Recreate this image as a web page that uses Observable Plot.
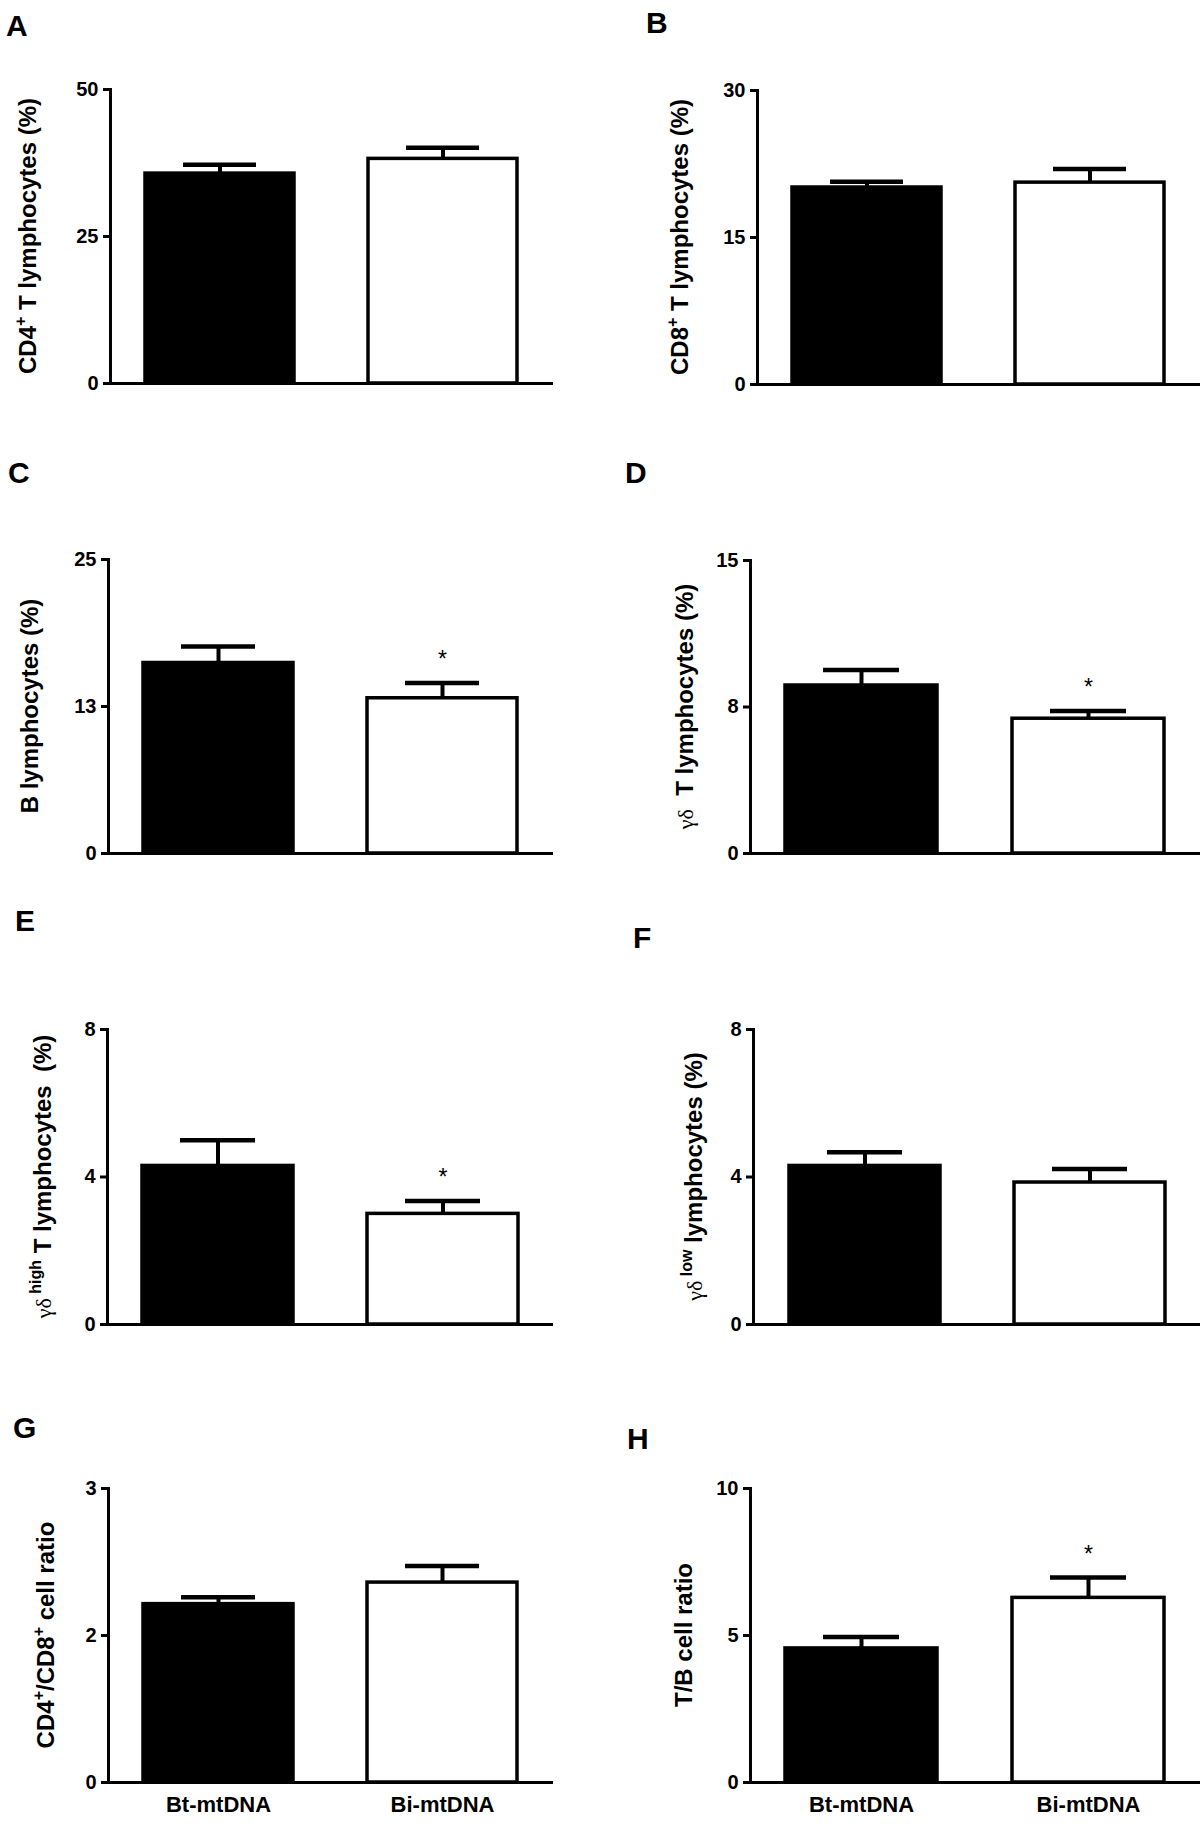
<!DOCTYPE html>
<html><head><meta charset="utf-8">
<script src="https://cdn.jsdelivr.net/npm/d3@7"></script>
<script src="https://cdn.jsdelivr.net/npm/@observablehq/plot@0.6"></script>
<style>
body{margin:0;background:#fff;}
#fig{position:relative;width:1200px;height:1827px;background:#fff;overflow:hidden;}
.panel{position:absolute;}
</style></head><body><div id="fig"></div>
<script>
// ---- data ----
const groups = ["Bt-mtDNA", "Bi-mtDNA"];
const panelIds = ["A", "B", "C", "D", "E", "F", "G", "H"];

const meanA = [35.7, 38.2], semA = [1.5, 1.9];
const meanB = [20.1, 20.6], semB = [0.6, 1.4];
const meanC = [16.2, 13.2], semC = [1.4, 1.3];
const meanD = [8.6, 6.9],  semD = [0.8, 0.4];
const meanE = [4.3, 3.0],  semE = [0.7, 0.35];
const meanF = [4.3, 3.85], semF = [0.37, 0.37];
const meanG = [1.82, 2.04], semG = [0.07, 0.17];
const meanH = [4.56, 6.28], semH = [0.39, 0.69];

const significant = {A:[false,false], B:[false,false], C:[false,true], D:[false,true],
                     E:[false,true], F:[false,false], G:[false,false], H:[false,true]};

const yMaxes = [50, 30, 25, 15, 8, 8, 3, 10];
const ticksA = [0, 25, 50],  tickLabelsA = ["0", "25", "50"];
const ticksB = [0, 15, 30],  tickLabelsB = ["0", "15", "30"];
const ticksC = [0, 12.5, 25], tickLabelsC = ["0", "13", "25"];
const ticksD = [0, 7.5, 15], tickLabelsD = ["0", "8", "15"];
const ticksE = [0, 4, 8],    tickLabelsE = ["0", "4", "8"];
const ticksF = [0, 4, 8],    tickLabelsF = ["0", "4", "8"];
const ticksG = [0, 1.5, 3],  tickLabelsG = ["0", "2", "3"];
const ticksH = [0, 5, 10],   tickLabelsH = ["0", "5", "10"];

// y-axis titles as segments: [text, kind]
const yTitles = {
  A: [["CD4","n"],["+","sup"],[" T lymphocytes (%)","n"]],
  B: [["CD8","n"],["+","sup"],[" T lymphocytes (%)","n"]],
  C: [["B lymphocytes (%)","n"]],
  D: [["γδ","g"],["  T lymphocytes (%)","n"]],
  E: [["γδ","g"],[" high","sup"],[" T lymphocytes  (%)","n"]],
  F: [["γδ","g"],[" low","sup"],[" lymphocytes (%)","n"]],
  G: [["CD4","n"],["+","sup"],["/CD8","n"],["+","sup"],[" cell ratio","n"]],
  H: [["T/B cell ratio","n"]]
};

// ---- layout (positions / styles only) ----
const layout = {
  A:{col:0, top:0,    h:440, mt:89,  mb:57, ml:110, mr:47, lx:28, letter:[6,36]},
  B:{col:1, top:0,    h:440, mt:90,  mb:56, ml:157, mr:0,  lx:80, letter:[46,33]},
  C:{col:0, top:440,  h:450, mt:119, mb:37, ml:108, mr:47, lx:30, letter:[8,43]},
  D:{col:1, top:440,  h:450, mt:120, mb:37, ml:150, mr:0,  lx:85, letter:[25,43]},
  E:{col:0, top:890,  h:460, mt:139, mb:26, ml:107, mr:47, lx:43, letter:[15,41]},
  F:{col:1, top:890,  h:460, mt:139, mb:26, ml:153, mr:0,  lx:94, letter:[33,58]},
  G:{col:0, top:1350, h:477, mt:138, mb:45, ml:108, mr:47, lx:46, letter:[13,88]},
  H:{col:1, top:1350, h:477, mt:138, mb:45, ml:150, mr:0,  lx:84, letter:[27,99]}
};
const barFill = ["#000", "#fff"];
const FONT = "'Liberation Sans', Arial, Helvetica, sans-serif";

const means = {A:meanA,B:meanB,C:meanC,D:meanD,E:meanE,F:meanF,G:meanG,H:meanH};
const sems  = {A:semA,B:semB,C:semC,D:semD,E:semE,F:semF,G:semG,H:semH};
const ticks = {A:ticksA,B:ticksB,C:ticksC,D:ticksD,E:ticksE,F:ticksF,G:ticksG,H:ticksH};
const tickLabels = {A:tickLabelsA,B:tickLabelsB,C:tickLabelsC,D:tickLabelsD,E:tickLabelsE,F:tickLabelsF,G:tickLabelsG,H:tickLabelsH};

const fig = document.getElementById("fig");

panelIds.forEach((id, k) => {
  const L = layout[id];
  const data = groups.map((g, i) => ({
    group: g, mean: means[id][i], top: means[id][i] + sems[id][i],
    fill: barFill[i], sig: significant[id][i]
  }));
  const tmap = new Map(ticks[id].map((t, i) => [t, tickLabels[id][i]]));
  const showX = (id === "G" || id === "H");

  const marks = [
    Plot.barY(data, {x: "group", y: "mean", fill: "fill", stroke: "#000", strokeWidth: 3.5}),
    Plot.ruleX(data, {x: "group", y1: "mean", y2: "top", stroke: "#000", strokeWidth: 4}),
    Plot.tickY(data, {x: "group", y: "top", stroke: "#000", strokeWidth: 4.5, insetLeft: 38, insetRight: 38}),
    Plot.text(data.filter(d => d.sig), {x: "group", y: "top", text: () => "*", dy: -23, fontSize: 23, fontWeight: "normal", fill: "#000"}),
    Plot.axisY({ticks: ticks[id], tickFormat: d => tmap.get(d), tickSize: 7, tickPadding: 5,
                strokeWidth: 3, fontSize: 20, fontWeight: "bold", label: null}),
    Plot.frame({anchor: "left", strokeWidth: 3, stroke: "#000", strokeLinecap: "square"}),
    Plot.ruleY([0], {stroke: "#000", strokeWidth: 3})
  ];
  if (showX) marks.push(Plot.axisX({tickSize: 0, tickPadding: 14, fontSize: 22, fontWeight: "bold", label: null}));

  const svg = Plot.plot({
    width: 600, height: L.h,
    marginTop: L.mt, marginBottom: L.mb, marginLeft: L.ml, marginRight: L.mr,
    x: {domain: groups, paddingInner: 0.33, paddingOuter: 0.155, axis: showX ? undefined : null},
    y: {domain: [0, yMaxes[k]]},
    style: {fontFamily: FONT, fontSize: "20px", fontWeight: "bold", background: "transparent", overflow: "visible", color: "#000"},
    marks
  });

  const s = d3.select(svg);
  // y-axis title with superscripts
  const cy = (L.mt + (L.h - L.mb)) / 2;
  const t = s.append("text")
    .attr("transform", `translate(${L.lx + 8},${cy}) rotate(-90)`)
    .attr("text-anchor", "middle")
    .attr("font-size", 24).attr("font-weight", "bold").attr("fill", "#000")
    .attr("font-family", FONT)
    .style("white-space", "pre");
  let shift = 0;
  for (const [txt, kind] of yTitles[id]) {
    const ts = t.append("tspan").text(txt);
    if (kind === "sup") {
      ts.attr("font-size", 16).attr("dy", shift ? 0 : -10);
      shift = 10;
    } else {
      if (shift) { ts.attr("dy", shift); shift = 0; }
      if (kind === "g") ts.attr("font-weight", "normal").attr("font-family", "'Liberation Serif', serif").attr("font-size", 22);
    }
  }
  // panel letter
  s.append("text").attr("x", L.letter[0]).attr("y", L.letter[1])
    .attr("text-anchor", "start")
    .attr("font-size", 30).attr("font-weight", "bold").attr("font-family", FONT).attr("fill", "#000")
    .text(id);

  const div = document.createElement("div");
  div.className = "panel";
  div.style.left = (L.col * 600) + "px";
  div.style.top = L.top + "px";
  div.appendChild(svg);
  fig.appendChild(div);
});
</script>
</body></html>
